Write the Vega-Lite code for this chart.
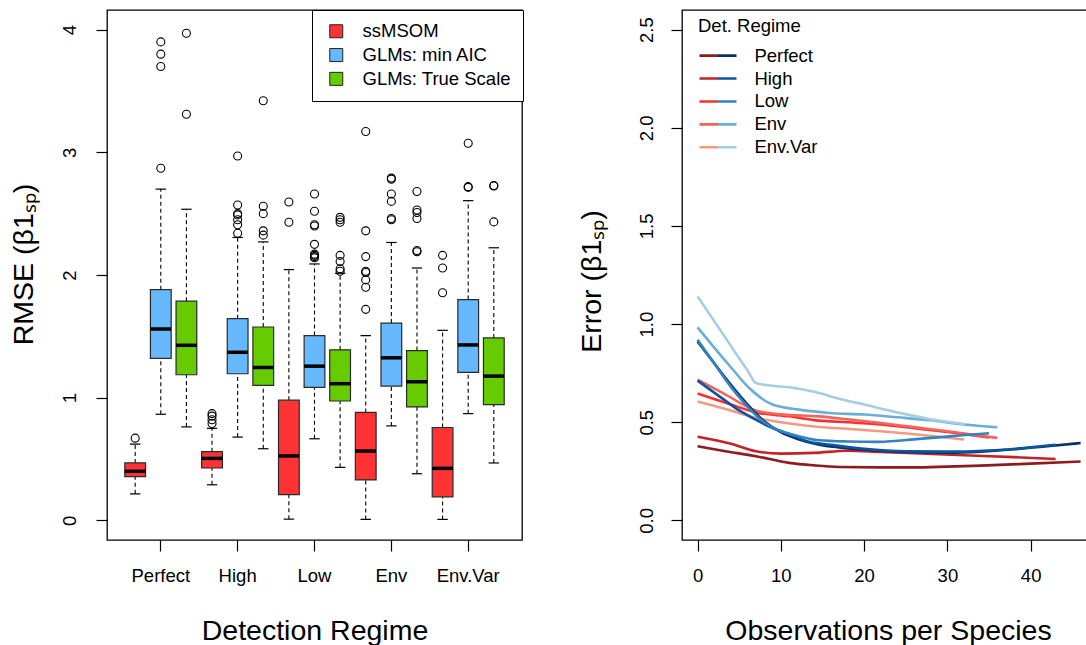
{
 "$schema": "https://vega.github.io/schema/vega-lite/v6.json",
 "background": "white",
 "padding": {"left": 8, "top": 9, "right": 0, "bottom": 0},
 "spacing": 53,
 "config": {
  "font": "Liberation Sans",
  "view": {"stroke": "black", "strokeWidth": 1.3},
  "axis": {"grid": false, "domain": false, "tickColor": "black", "tickSize": 11, "tickWidth": 1.2, "labelFont": "Liberation Sans", "labelFontSize": 18.5, "labelColor": "black", "titleFont": "Liberation Sans", "titleFontSize": 28.5, "titleFontWeight": "normal", "titleColor": "black"},
  "legend": {"labelFont": "Liberation Sans", "labelFontSize": 18.5, "labelColor": "black", "titleFont": "Liberation Sans", "titleFontSize": 18.5, "titleFontWeight": "normal", "titleColor": "black", "labelLimit": 400}
 },
 "datasets": {
  "boxes": [
   {"regime":"Perfect","method":"ssMSOM","lower":0.216,"q1":0.357,"median":0.40,"q3":0.468,"upper":0.622},
   {"regime":"Perfect","method":"GLMs: min AIC","lower":0.865,"q1":1.32,"median":1.56,"q3":1.88,"upper":2.70},
   {"regime":"Perfect","method":"GLMs: True Scale","lower":0.762,"q1":1.187,"median":1.427,"q3":1.787,"upper":2.536},
   {"regime":"High","method":"ssMSOM","lower":0.29,"q1":0.427,"median":0.505,"q3":0.56,"upper":0.75},
   {"regime":"High","method":"GLMs: min AIC","lower":0.679,"q1":1.195,"median":1.37,"q3":1.644,"upper":2.306},
   {"regime":"High","method":"GLMs: True Scale","lower":0.584,"q1":1.10,"median":1.246,"q3":1.576,"upper":2.27},
   {"regime":"Low","method":"ssMSOM","lower":0.01,"q1":0.21,"median":0.525,"q3":0.98,"upper":2.044},
   {"regime":"Low","method":"GLMs: min AIC","lower":0.665,"q1":1.084,"median":1.257,"q3":1.506,"upper":2.09},
   {"regime":"Low","method":"GLMs: True Scale","lower":0.432,"q1":0.973,"median":1.114,"q3":1.39,"upper":2.014},
   {"regime":"Env","method":"ssMSOM","lower":0.008,"q1":0.33,"median":0.565,"q3":0.88,"upper":1.506},
   {"regime":"Env","method":"GLMs: min AIC","lower":0.77,"q1":1.095,"median":1.325,"q3":1.608,"upper":2.265},
   {"regime":"Env","method":"GLMs: True Scale","lower":0.38,"q1":0.925,"median":1.13,"q3":1.384,"upper":2.057},
   {"regime":"Env.Var","method":"ssMSOM","lower":0.008,"q1":0.192,"median":0.424,"q3":0.757,"upper":1.549},
   {"regime":"Env.Var","method":"GLMs: min AIC","lower":0.87,"q1":1.206,"median":1.43,"q3":1.80,"upper":2.606},
   {"regime":"Env.Var","method":"GLMs: True Scale","lower":0.468,"q1":0.943,"median":1.176,"q3":1.487,"upper":2.222}
  ],
  "outliers": [
   {"regime":"Perfect","method":"ssMSOM","value":0.67},
   {"regime":"Perfect","method":"GLMs: min AIC","value":2.87},
   {"regime":"Perfect","method":"GLMs: min AIC","value":3.70},
   {"regime":"Perfect","method":"GLMs: min AIC","value":3.80},
   {"regime":"Perfect","method":"GLMs: min AIC","value":3.90},
   {"regime":"Perfect","method":"GLMs: True Scale","value":3.31},
   {"regime":"Perfect","method":"GLMs: True Scale","value":3.97},
   {"regime":"High","method":"ssMSOM","value":0.79},
   {"regime":"High","method":"ssMSOM","value":0.82},
   {"regime":"High","method":"ssMSOM","value":0.85},
   {"regime":"High","method":"ssMSOM","value":0.87},
   {"regime":"High","method":"GLMs: min AIC","value":2.34},
   {"regime":"High","method":"GLMs: min AIC","value":2.41},
   {"regime":"High","method":"GLMs: min AIC","value":2.45},
   {"regime":"High","method":"GLMs: min AIC","value":2.49},
   {"regime":"High","method":"GLMs: min AIC","value":2.50},
   {"regime":"High","method":"GLMs: min AIC","value":2.57},
   {"regime":"High","method":"GLMs: min AIC","value":2.97},
   {"regime":"High","method":"GLMs: True Scale","value":2.325},
   {"regime":"High","method":"GLMs: True Scale","value":2.36},
   {"regime":"High","method":"GLMs: True Scale","value":2.50},
   {"regime":"High","method":"GLMs: True Scale","value":2.56},
   {"regime":"High","method":"GLMs: True Scale","value":3.42},
   {"regime":"Low","method":"ssMSOM","value":2.43},
   {"regime":"Low","method":"ssMSOM","value":2.595},
   {"regime":"Low","method":"GLMs: min AIC","value":2.14},
   {"regime":"Low","method":"GLMs: min AIC","value":2.15},
   {"regime":"Low","method":"GLMs: min AIC","value":2.16},
   {"regime":"Low","method":"GLMs: min AIC","value":2.17},
   {"regime":"Low","method":"GLMs: min AIC","value":2.25},
   {"regime":"Low","method":"GLMs: min AIC","value":2.40},
   {"regime":"Low","method":"GLMs: min AIC","value":2.41},
   {"regime":"Low","method":"GLMs: min AIC","value":2.52},
   {"regime":"Low","method":"GLMs: min AIC","value":2.66},
   {"regime":"Low","method":"GLMs: True Scale","value":2.03},
   {"regime":"Low","method":"GLMs: True Scale","value":2.05},
   {"regime":"Low","method":"GLMs: True Scale","value":2.11},
   {"regime":"Low","method":"GLMs: True Scale","value":2.16},
   {"regime":"Low","method":"GLMs: True Scale","value":2.43},
   {"regime":"Low","method":"GLMs: True Scale","value":2.45},
   {"regime":"Low","method":"GLMs: True Scale","value":2.47},
   {"regime":"Env","method":"ssMSOM","value":1.72},
   {"regime":"Env","method":"ssMSOM","value":1.90},
   {"regime":"Env","method":"ssMSOM","value":1.96},
   {"regime":"Env","method":"ssMSOM","value":2.02},
   {"regime":"Env","method":"ssMSOM","value":2.03},
   {"regime":"Env","method":"ssMSOM","value":2.15},
   {"regime":"Env","method":"ssMSOM","value":2.36},
   {"regime":"Env","method":"ssMSOM","value":3.17},
   {"regime":"Env","method":"GLMs: min AIC","value":2.45},
   {"regime":"Env","method":"GLMs: min AIC","value":2.46},
   {"regime":"Env","method":"GLMs: min AIC","value":2.60},
   {"regime":"Env","method":"GLMs: min AIC","value":2.66},
   {"regime":"Env","method":"GLMs: min AIC","value":2.78},
   {"regime":"Env","method":"GLMs: min AIC","value":2.79},
   {"regime":"Env","method":"GLMs: True Scale","value":2.19},
   {"regime":"Env","method":"GLMs: True Scale","value":2.20},
   {"regime":"Env","method":"GLMs: True Scale","value":2.46},
   {"regime":"Env","method":"GLMs: True Scale","value":2.51},
   {"regime":"Env","method":"GLMs: True Scale","value":2.53},
   {"regime":"Env","method":"GLMs: True Scale","value":2.68},
   {"regime":"Env.Var","method":"ssMSOM","value":1.855},
   {"regime":"Env.Var","method":"ssMSOM","value":2.057},
   {"regime":"Env.Var","method":"ssMSOM","value":2.16},
   {"regime":"Env.Var","method":"GLMs: min AIC","value":2.714},
   {"regime":"Env.Var","method":"GLMs: min AIC","value":2.72},
   {"regime":"Env.Var","method":"GLMs: min AIC","value":3.074},
   {"regime":"Env.Var","method":"GLMs: True Scale","value":2.433},
   {"regime":"Env.Var","method":"GLMs: True Scale","value":2.725},
   {"regime":"Env.Var","method":"GLMs: True Scale","value":2.73}
  ],
  "curves": [
   {"model":"ssMSOM","regime":"Perfect","obs":0,"err":0.378},
   {"model":"ssMSOM","regime":"Perfect","obs":3,"err":0.355},
   {"model":"ssMSOM","regime":"Perfect","obs":7,"err":0.327},
   {"model":"ssMSOM","regime":"Perfect","obs":11,"err":0.293},
   {"model":"ssMSOM","regime":"Perfect","obs":14,"err":0.280},
   {"model":"ssMSOM","regime":"Perfect","obs":17,"err":0.272},
   {"model":"ssMSOM","regime":"Perfect","obs":22,"err":0.270},
   {"model":"ssMSOM","regime":"Perfect","obs":26,"err":0.270},
   {"model":"ssMSOM","regime":"Perfect","obs":30,"err":0.274},
   {"model":"ssMSOM","regime":"Perfect","obs":34,"err":0.279},
   {"model":"ssMSOM","regime":"Perfect","obs":40,"err":0.289},
   {"model":"ssMSOM","regime":"Perfect","obs":46,"err":0.300},
   {"model":"ssMSOM","regime":"High","obs":0,"err":0.426},
   {"model":"ssMSOM","regime":"High","obs":4,"err":0.390},
   {"model":"ssMSOM","regime":"High","obs":7,"err":0.352},
   {"model":"ssMSOM","regime":"High","obs":10,"err":0.340},
   {"model":"ssMSOM","regime":"High","obs":14,"err":0.344},
   {"model":"ssMSOM","regime":"High","obs":18,"err":0.355},
   {"model":"ssMSOM","regime":"High","obs":22,"err":0.348},
   {"model":"ssMSOM","regime":"High","obs":26,"err":0.342},
   {"model":"ssMSOM","regime":"High","obs":32,"err":0.332},
   {"model":"ssMSOM","regime":"High","obs":38,"err":0.322},
   {"model":"ssMSOM","regime":"High","obs":43,"err":0.313},
   {"model":"ssMSOM","regime":"Low","obs":0,"err":0.646},
   {"model":"ssMSOM","regime":"Low","obs":4,"err":0.590},
   {"model":"ssMSOM","regime":"Low","obs":7,"err":0.550},
   {"model":"ssMSOM","regime":"Low","obs":11,"err":0.530},
   {"model":"ssMSOM","regime":"Low","obs":14.6,"err":0.508},
   {"model":"ssMSOM","regime":"Low","obs":18,"err":0.500},
   {"model":"ssMSOM","regime":"Low","obs":22,"err":0.488},
   {"model":"ssMSOM","regime":"Low","obs":26,"err":0.470},
   {"model":"ssMSOM","regime":"Low","obs":30,"err":0.450},
   {"model":"ssMSOM","regime":"Low","obs":35,"err":0.423},
   {"model":"ssMSOM","regime":"Env","obs":0,"err":0.717},
   {"model":"ssMSOM","regime":"Env","obs":3,"err":0.650},
   {"model":"ssMSOM","regime":"Env","obs":7,"err":0.560},
   {"model":"ssMSOM","regime":"Env","obs":10,"err":0.540},
   {"model":"ssMSOM","regime":"Env","obs":14.6,"err":0.530},
   {"model":"ssMSOM","regime":"Env","obs":18,"err":0.515},
   {"model":"ssMSOM","regime":"Env","obs":22,"err":0.496},
   {"model":"ssMSOM","regime":"Env","obs":26,"err":0.475},
   {"model":"ssMSOM","regime":"Env","obs":30,"err":0.454},
   {"model":"ssMSOM","regime":"Env","obs":36,"err":0.420},
   {"model":"ssMSOM","regime":"Env.Var","obs":0,"err":0.606},
   {"model":"ssMSOM","regime":"Env.Var","obs":4,"err":0.560},
   {"model":"ssMSOM","regime":"Env.Var","obs":7,"err":0.522},
   {"model":"ssMSOM","regime":"Env.Var","obs":10,"err":0.500},
   {"model":"ssMSOM","regime":"Env.Var","obs":14.6,"err":0.476},
   {"model":"ssMSOM","regime":"Env.Var","obs":18,"err":0.466},
   {"model":"ssMSOM","regime":"Env.Var","obs":22,"err":0.454},
   {"model":"ssMSOM","regime":"Env.Var","obs":27,"err":0.435},
   {"model":"ssMSOM","regime":"Env.Var","obs":32,"err":0.412},
   {"model":"GLM","regime":"Perfect","obs":0,"err":0.912},
   {"model":"GLM","regime":"Perfect","obs":2,"err":0.80},
   {"model":"GLM","regime":"Perfect","obs":4,"err":0.69},
   {"model":"GLM","regime":"Perfect","obs":6,"err":0.59},
   {"model":"GLM","regime":"Perfect","obs":8,"err":0.505},
   {"model":"GLM","regime":"Perfect","obs":10,"err":0.45},
   {"model":"GLM","regime":"Perfect","obs":12,"err":0.415},
   {"model":"GLM","regime":"Perfect","obs":14.6,"err":0.386},
   {"model":"GLM","regime":"Perfect","obs":17,"err":0.372},
   {"model":"GLM","regime":"Perfect","obs":20,"err":0.360},
   {"model":"GLM","regime":"Perfect","obs":25,"err":0.348},
   {"model":"GLM","regime":"Perfect","obs":30,"err":0.345},
   {"model":"GLM","regime":"Perfect","obs":34,"err":0.350},
   {"model":"GLM","regime":"Perfect","obs":38,"err":0.362},
   {"model":"GLM","regime":"Perfect","obs":42,"err":0.378},
   {"model":"GLM","regime":"Perfect","obs":46,"err":0.394},
   {"model":"GLM","regime":"High","obs":0,"err":0.712},
   {"model":"GLM","regime":"High","obs":3,"err":0.62},
   {"model":"GLM","regime":"High","obs":5,"err":0.56},
   {"model":"GLM","regime":"High","obs":7,"err":0.513},
   {"model":"GLM","regime":"High","obs":9,"err":0.47},
   {"model":"GLM","regime":"High","obs":11,"err":0.44},
   {"model":"GLM","regime":"High","obs":13,"err":0.405},
   {"model":"GLM","regime":"High","obs":16,"err":0.385},
   {"model":"GLM","regime":"High","obs":20,"err":0.365},
   {"model":"GLM","regime":"High","obs":25,"err":0.352},
   {"model":"GLM","regime":"High","obs":30,"err":0.350},
   {"model":"GLM","regime":"High","obs":35,"err":0.356},
   {"model":"GLM","regime":"High","obs":40,"err":0.372},
   {"model":"GLM","regime":"High","obs":43,"err":0.385},
   {"model":"GLM","regime":"Low","obs":0,"err":0.92},
   {"model":"GLM","regime":"Low","obs":2,"err":0.80},
   {"model":"GLM","regime":"Low","obs":4,"err":0.68},
   {"model":"GLM","regime":"Low","obs":6,"err":0.58},
   {"model":"GLM","regime":"Low","obs":8,"err":0.50},
   {"model":"GLM","regime":"Low","obs":10,"err":0.455},
   {"model":"GLM","regime":"Low","obs":12,"err":0.43},
   {"model":"GLM","regime":"Low","obs":14.6,"err":0.408},
   {"model":"GLM","regime":"Low","obs":18,"err":0.402},
   {"model":"GLM","regime":"Low","obs":21.8,"err":0.400},
   {"model":"GLM","regime":"Low","obs":26.6,"err":0.415},
   {"model":"GLM","regime":"Low","obs":31.4,"err":0.432},
   {"model":"GLM","regime":"Low","obs":35,"err":0.444},
   {"model":"GLM","regime":"Env","obs":0,"err":0.983},
   {"model":"GLM","regime":"Env","obs":2,"err":0.88},
   {"model":"GLM","regime":"Env","obs":4,"err":0.78},
   {"model":"GLM","regime":"Env","obs":6.2,"err":0.674},
   {"model":"GLM","regime":"Env","obs":9,"err":0.59},
   {"model":"GLM","regime":"Env","obs":12.2,"err":0.564},
   {"model":"GLM","regime":"Env","obs":15.8,"err":0.547},
   {"model":"GLM","regime":"Env","obs":20,"err":0.539},
   {"model":"GLM","regime":"Env","obs":24,"err":0.525},
   {"model":"GLM","regime":"Env","obs":28,"err":0.510},
   {"model":"GLM","regime":"Env","obs":32,"err":0.488},
   {"model":"GLM","regime":"Env","obs":36,"err":0.474},
   {"model":"GLM","regime":"Env.Var","obs":0,"err":1.141},
   {"model":"GLM","regime":"Env.Var","obs":2,"err":1.015},
   {"model":"GLM","regime":"Env.Var","obs":4,"err":0.889},
   {"model":"GLM","regime":"Env.Var","obs":6,"err":0.763},
   {"model":"GLM","regime":"Env.Var","obs":7,"err":0.70},
   {"model":"GLM","regime":"Env.Var","obs":9,"err":0.686},
   {"model":"GLM","regime":"Env.Var","obs":11,"err":0.678},
   {"model":"GLM","regime":"Env.Var","obs":14,"err":0.655},
   {"model":"GLM","regime":"Env.Var","obs":17,"err":0.62},
   {"model":"GLM","regime":"Env.Var","obs":20,"err":0.59},
   {"model":"GLM","regime":"Env.Var","obs":24,"err":0.55},
   {"model":"GLM","regime":"Env.Var","obs":28,"err":0.515},
   {"model":"GLM","regime":"Env.Var","obs":32.1,"err":0.49}
  ]
 },
 "hconcat": [
  {
   "width": 415,
   "height": 530,
   "encoding": {
    "x": {"field": "regime", "type": "nominal", "sort": ["Perfect","High","Low","Env","Env.Var"], "scale": {"paddingInner": 0, "paddingOuter": 0.2}, "axis": {"title": "Detection Regime", "labelAngle": 0, "labelAlign": "center", "labelBaseline": "alphabetic", "labelPadding": 30, "titleBaseline": "alphabetic", "titleAlign": "center", "titleX": 207.5, "titleY": 99}},
    "xOffset": {"field": "method", "type": "nominal", "sort": ["ssMSOM","GLMs: min AIC","GLMs: True Scale"], "scale": {"paddingInner": 0.19, "paddingOuter": 0.095}}
   },
   "layer": [
    {"data": {"name": "boxes"}, "mark": {"type": "rule", "strokeDash": [4,3], "strokeWidth": 1.1, "color": "black"},
     "encoding": {"y": {"field": "lower", "type": "quantitative", "scale": {"domain": [-0.16, 4.16], "nice": false, "zero": false}, "axis": {"title": "RMSE (β1ₛₚ)", "values": [0,1,2,3,4], "labelAngle": -90, "labelAlign": "center", "labelBaseline": "alphabetic", "labelPadding": 21, "titleAngle": -90, "titleAlign": "center", "titleBaseline": "alphabetic", "titleX": -75, "titleY": 254}}, "y2": {"field": "q1"}}},
    {"data": {"name": "boxes"}, "mark": {"type": "rule", "strokeDash": [4,3], "strokeWidth": 1.1, "color": "black"},
     "encoding": {"y": {"field": "q3", "type": "quantitative", "scale": {"domain": [-0.16, 4.16], "nice": false, "zero": false}, "axis": {"title": "RMSE (β1ₛₚ)", "values": [0,1,2,3,4], "labelAngle": -90, "labelAlign": "center", "labelBaseline": "alphabetic", "labelPadding": 21, "titleAngle": -90, "titleAlign": "center", "titleBaseline": "alphabetic", "titleX": -75, "titleY": 254}}, "y2": {"field": "upper"}}},
    {"data": {"name": "boxes"}, "mark": {"type": "tick", "orient": "horizontal", "size": 10.4, "thickness": 1.2, "color": "black", "opacity": 1},
     "encoding": {"y": {"field": "lower", "type": "quantitative", "scale": {"domain": [-0.16, 4.16], "nice": false, "zero": false}, "axis": {"title": "RMSE (β1ₛₚ)", "values": [0,1,2,3,4], "labelAngle": -90, "labelAlign": "center", "labelBaseline": "alphabetic", "labelPadding": 21, "titleAngle": -90, "titleAlign": "center", "titleBaseline": "alphabetic", "titleX": -75, "titleY": 254}}}},
    {"data": {"name": "boxes"}, "mark": {"type": "tick", "orient": "horizontal", "size": 10.4, "thickness": 1.2, "color": "black", "opacity": 1},
     "encoding": {"y": {"field": "upper", "type": "quantitative", "scale": {"domain": [-0.16, 4.16], "nice": false, "zero": false}, "axis": {"title": "RMSE (β1ₛₚ)", "values": [0,1,2,3,4], "labelAngle": -90, "labelAlign": "center", "labelBaseline": "alphabetic", "labelPadding": 21, "titleAngle": -90, "titleAlign": "center", "titleBaseline": "alphabetic", "titleX": -75, "titleY": 254}}}},
    {"data": {"name": "boxes"}, "mark": {"type": "bar", "stroke": "#2a2a2a", "strokeWidth": 1.2, "opacity": 1},
     "encoding": {"y": {"field": "q1", "type": "quantitative", "scale": {"domain": [-0.16, 4.16], "nice": false, "zero": false}, "axis": {"title": "RMSE (β1ₛₚ)", "values": [0,1,2,3,4], "labelAngle": -90, "labelAlign": "center", "labelBaseline": "alphabetic", "labelPadding": 21, "titleAngle": -90, "titleAlign": "center", "titleBaseline": "alphabetic", "titleX": -75, "titleY": 254}}, "y2": {"field": "q3"},
      "fill": {"field": "method", "type": "nominal", "scale": {"domain": ["ssMSOM","GLMs: min AIC","GLMs: True Scale"], "range": ["#FF3333","#66B8FF","#66CC00"]},
       "legend": {"title": null, "orient": "none", "legendX": 205, "legendY": 0, "padding": 12, "strokeColor": "black", "fillColor": "white", "symbolType": "square", "symbolSize": 169, "symbolStrokeColor": "#222222", "symbolStrokeWidth": 1, "symbolOpacity": 1, "symbolOffset": 3, "labelOffset": 17, "rowPadding": 4.8, "cornerRadius": 0}}}},
    {"data": {"name": "boxes"}, "mark": {"type": "tick", "orient": "horizontal", "size": 20.7, "thickness": 3.5, "color": "black", "opacity": 1},
     "encoding": {"y": {"field": "median", "type": "quantitative", "scale": {"domain": [-0.16, 4.16], "nice": false, "zero": false}, "axis": {"title": "RMSE (β1ₛₚ)", "values": [0,1,2,3,4], "labelAngle": -90, "labelAlign": "center", "labelBaseline": "alphabetic", "labelPadding": 21, "titleAngle": -90, "titleAlign": "center", "titleBaseline": "alphabetic", "titleX": -75, "titleY": 254}}}},
    {"data": {"name": "outliers"}, "mark": {"type": "point", "shape": "circle", "filled": false, "stroke": "black", "strokeWidth": 1.1, "size": 64, "opacity": 1},
     "encoding": {"y": {"field": "value", "type": "quantitative", "scale": {"domain": [-0.16, 4.16], "nice": false, "zero": false}, "axis": {"title": "RMSE (β1ₛₚ)", "values": [0,1,2,3,4], "labelAngle": -90, "labelAlign": "center", "labelBaseline": "alphabetic", "labelPadding": 21, "titleAngle": -90, "titleAlign": "center", "titleBaseline": "alphabetic", "titleX": -75, "titleY": 254}}}}
   ]
  },
  {
   "width": 420,
   "height": 530,
   "resolve": {"scale": {"color": "independent"}},
   "layer": [
    {"data": {"name": "curves"}, "transform": [{"filter": "datum.model === 'ssMSOM'"}],
     "mark": {"type": "line", "strokeWidth": 2.6, "interpolate": "monotone"},
     "encoding": {
      "x": {"field": "obs", "type": "quantitative", "scale": {"domain": [-1.87, 48.57], "nice": false, "zero": false}, "axis": {"title": "Observations per Species", "values": [0,10,20,30,40], "labelBaseline": "alphabetic", "labelPadding": 30, "titleBaseline": "alphabetic", "titleAlign": "center", "titleX": 206, "titleY": 99}},
      "y": {"field": "err", "type": "quantitative", "scale": {"domain": [-0.1, 2.6], "nice": false, "zero": false}, "axis": {"title": "Error (β1ₛₚ)", "values": [0,0.5,1,1.5,2,2.5], "format": ".1f", "labelAngle": -90, "labelAlign": "center", "labelBaseline": "alphabetic", "labelPadding": 18.3, "titleAngle": -90, "titleAlign": "center", "titleBaseline": "alphabetic", "titleX": -82, "titleY": 271}},
      "color": {"field": "regime", "type": "nominal", "scale": {"domain": ["Perfect","High","Low","Env","Env.Var"], "range": ["#8E1B1E","#C62127","#FF2E2E","#F5645A","#F39A80"]},
       "legend": {"title": "Det. Regime", "orient": "none", "legendX": 16, "legendY": 7.4, "padding": 0, "symbolType": "M-1,0H0M1,0", "symbolSize": 1369, "symbolStrokeWidth": 2.6, "clipHeight": 18.5, "labelOffset": 16.4, "rowPadding": 3.9, "titlePadding": 10.5}}
     }},
    {"data": {"name": "curves"}, "transform": [{"filter": "datum.model === 'GLM'"}],
     "mark": {"type": "line", "strokeWidth": 2.6, "interpolate": "monotone"},
     "encoding": {
      "x": {"field": "obs", "type": "quantitative", "scale": {"domain": [-1.87, 48.57], "nice": false, "zero": false}, "axis": {"title": "Observations per Species", "values": [0,10,20,30,40], "labelBaseline": "alphabetic", "labelPadding": 30, "titleBaseline": "alphabetic", "titleAlign": "center", "titleX": 206, "titleY": 99}},
      "y": {"field": "err", "type": "quantitative", "scale": {"domain": [-0.1, 2.6], "nice": false, "zero": false}, "axis": {"title": "Error (β1ₛₚ)", "values": [0,0.5,1,1.5,2,2.5], "format": ".1f", "labelAngle": -90, "labelAlign": "center", "labelBaseline": "alphabetic", "labelPadding": 18.3, "titleAngle": -90, "titleAlign": "center", "titleBaseline": "alphabetic", "titleX": -82, "titleY": 271}},
      "color": {"field": "regime", "type": "nominal", "scale": {"domain": ["Perfect","High","Low","Env","Env.Var"], "range": ["#08306B","#0B559F","#3283C2","#6AAED6","#A5CDE4"]},
       "legend": {"title": "Det. Regime", "orient": "none", "legendX": 16, "legendY": 7.4, "padding": 0, "symbolType": "M-1,0M0,0H1", "symbolSize": 1369, "symbolStrokeWidth": 2.6, "clipHeight": 18.5, "labelOffset": 16.4, "rowPadding": 3.9, "titlePadding": 10.5, "titleColor": "rgba(0,0,0,0)", "labelColor": "rgba(0,0,0,0)"}}
     }}
   ]
  }
 ]
}
